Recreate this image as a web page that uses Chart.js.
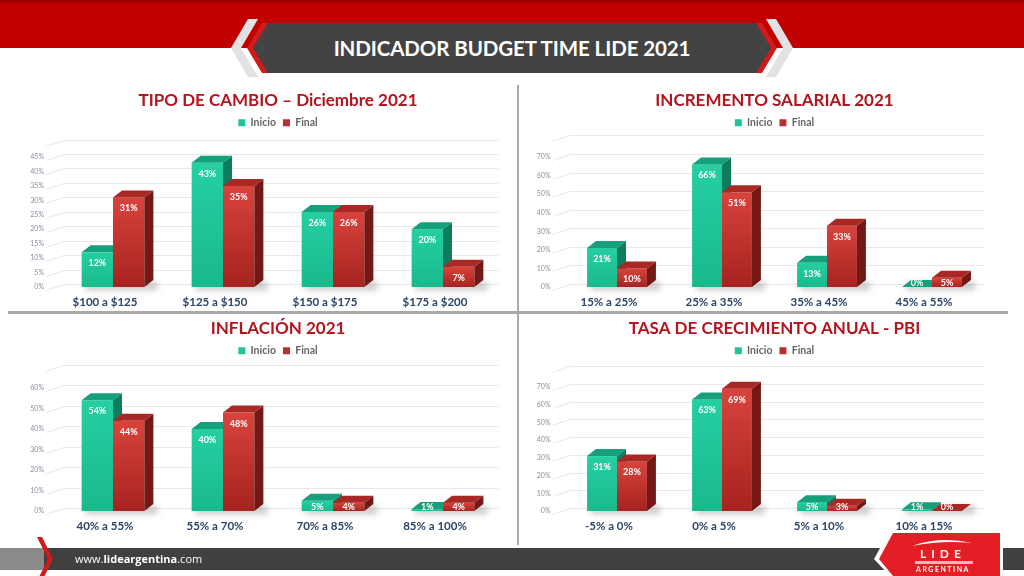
<!DOCTYPE html>
<html>
<head>
<meta charset="utf-8">
<script src="https://cdn.jsdelivr.net/npm/chart.js@4.4.1/dist/chart.umd.min.js"></script>
<style>
  html, body { margin: 0; padding: 0; background: #fff; }
  #page { position: relative; width: 1024px; height: 576px; overflow: hidden; font-family: Lato, "Open Sans", sans-serif; }
  .abs { position: absolute; }
  canvas { position: absolute; }
  #banner { left: 262px; top: 23px; width: 500px; height: 50px; line-height: 50px; text-align: center;
            color: #fff; font-weight: bold; font-size: 20.5px; letter-spacing: -0.1px; }
  #web { left: 75px; top: 551px; color: #fff; font-family: "Open Sans", sans-serif; font-size: 11px; }
</style>
</head>
<body>
<div id="page">
  <svg class="abs" style="left:0;top:0" width="1024" height="576">
    <rect x="0" y="0" width="1024" height="48" fill="#c10000"/>
    <rect x="0" y="0" width="1024" height="3" fill="#a30000"/>
    <!-- banner -->
    <polygon points="248,19 258,19 241,48 258,77 248,77 231,48" fill="#e2e2e2"/>
    <polygon points="766,19 776,19 793,48 776,77 766,77 783,48" fill="#e2e2e2"/>
    <polygon points="267,23 757,23 772,48 757,73 267,73 252,48" fill="#434343"/>
    <polygon points="262,23 268,23 253,48 268,73 262,73 247,48" fill="#d11a1a"/>
    <polygon points="756,23 762,23 777,48 762,73 756,73 771,48" fill="#d11a1a"/>
    <!-- panel separators -->
    <rect x="517" y="85" width="2" height="460" fill="#a9a9a9"/>
    <rect x="8" y="311" width="1000" height="3" fill="#a9a9a9"/>
  </svg>
  <div id="banner" class="abs">INDICADOR BUDGET TIME LIDE 2021</div>

  <canvas id="c1" width="517" height="225" style="left:0;top:85px"></canvas>
  <canvas id="c2" width="505" height="225" style="left:519px;top:85px"></canvas>
  <canvas id="c3" width="517" height="232" style="left:0;top:313px"></canvas>
  <canvas id="c4" width="505" height="232" style="left:519px;top:313px"></canvas>

  <svg class="abs" style="left:0;top:0" width="1024" height="576">
    <rect x="0" y="548" width="44" height="22" fill="#8a8a8a"/>
    <rect x="44" y="548" width="980" height="22" fill="#404040"/>
    <polygon points="37,537 42,537 53,559 42,581 37,581 48,559" fill="#d11a1a"/>
    <!-- logo -->
    <polygon points="874,559 890,530 1003,530 1003,576 890,576" fill="#ffffff"/>
    <polygon points="879,559 893,533 1000,533 1000,576 893,576" fill="#e41e25"/>
    <path d="M912,546 Q940,536 972,543 Q942,540 912,546 Z" fill="#fff"/>
    <rect x="915" y="561" width="58" height="3" fill="#f5b5b5"/>
  </svg>
  <div class="abs" style="left:893px;top:546px;width:100px;text-align:center;color:#fff;font:bold 12px Lato, sans-serif;letter-spacing:5px">LIDE</div>
  <div class="abs" style="left:893px;top:565px;width:100px;text-align:center;color:#fff;font:bold 7px Lato, sans-serif;letter-spacing:1.5px">ARGENTINA</div>
  <div id="web" class="abs">www.<b>lideargentina</b>.com</div>
</div>

<script>
// ---- data ----
const seriesNames = ['Inicio', 'Final'];

const cambioCats = ['$100 a $125', '$125 a $150', '$150 a $175', '$175 a $200'];
const cambioInicio = [12, 43, 26, 20];
const cambioFinal = [31, 35, 26, 7];

const salarioCats = ['15% a 25%', '25% a 35%', '35% a 45%', '45% a 55%'];
const salarioInicio = [21, 66, 13, 0];
const salarioFinal = [10, 51, 33, 5];

const inflacionCats = ['40% a 55%', '55% a 70%', '70% a 85%', '85% a 100%'];
const inflacionInicio = [54, 40, 5, 1];
const inflacionFinal = [44, 48, 4, 4];

const pbiCats = ['-5% a 0%', '0% a 5%', '5% a 10%', '10% a 15%'];
const pbiInicio = [31, 63, 5, 1];
const pbiFinal = [28, 69, 3, 0];

Chart.defaults.font.family = 'Lato, "Open Sans", sans-serif';

// depth of the fake 3d bars
const DX = 9, DY = 7;
const faces = [
    { front: ['#25cfa2', '#1ab98c'], side: '#0d7d5e', top: '#14a07b' },
    { front: ['#d8433c', '#a6231f'], side: '#741815', top: '#aa2823' }
];

// draws wall lines, 3d bars and value labels instead of the flat bars
const bar3d = {
    id: 'bar3d',
    beforeDatasetsDraw(chart, args, opts) {
        const ctx = chart.ctx;
        const ca = chart.chartArea;
        const y = chart.scales.y;

        ctx.save();
        ctx.strokeStyle = '#e8e8e8';
        ctx.lineWidth = 1;
        for (let v = 0; v <= opts.labelMax + opts.step + 0.001; v += opts.step) {
            const yy = Math.round(y.getPixelForValue(v)) + 0.5;
            ctx.beginPath();
            ctx.moveTo(ca.left - 12, yy + 3);
            ctx.lineTo(ca.left + 6, yy - 3);
            ctx.lineTo(ca.right, yy - 3);
            ctx.stroke();
        }
        ctx.restore();

        const metas = chart.data.datasets.map((d, i) => chart.getDatasetMeta(i));
        const n = chart.data.labels.length;
        for (let i = 0; i < n; i++) {
            const f = metas[0].data[i], l = metas[metas.length - 1].data[i];
            const sx0 = f.x - f.width / 2, sx1 = l.x + l.width / 2 + DX;
            ctx.save();
            ctx.filter = 'blur(3px)';
            ctx.fillStyle = 'rgba(0,0,0,0.22)';
            ctx.fillRect(sx0 + 4, f.base - DY + 2, sx1 - sx0, DY + 1);
            ctx.restore();

            metas.forEach((m, d) => {
                const el = m.data[i], c = faces[d];
                const x0 = el.x - el.width / 2, x1 = el.x + el.width / 2;
                const top = Math.min(el.y, el.base), b = el.base;
                const g = ctx.createLinearGradient(0, top, 0, b);
                g.addColorStop(0, c.front[0]);
                g.addColorStop(1, c.front[1]);
                ctx.fillStyle = g;
                ctx.fillRect(x0, top, x1 - x0, b - top);

                ctx.fillStyle = c.side;
                ctx.beginPath();
                ctx.moveTo(x1, top); ctx.lineTo(x1 + DX, top - DY);
                ctx.lineTo(x1 + DX, b - DY); ctx.lineTo(x1, b);
                ctx.closePath(); ctx.fill();

                ctx.fillStyle = c.top;
                ctx.beginPath();
                ctx.moveTo(x0, top); ctx.lineTo(x0 + DX, top - DY);
                ctx.lineTo(x1 + DX, top - DY); ctx.lineTo(x1, top);
                ctx.closePath(); ctx.fill();
            });
        }

        ctx.save();
        ctx.font = 'bold 9px Lato, sans-serif';
        ctx.fillStyle = '#ffffff';
        ctx.textAlign = 'center';
        ctx.textBaseline = 'middle';
        metas.forEach((m, d) => m.data.forEach((el, i) => {
            const v = chart.data.datasets[d].data[i];
            ctx.fillText(v + '%', el.x, Math.min(el.y + 11, el.base - 4));
        }));
        ctx.restore();
        return false;
    }
};

const panels = [
    { id: 'c1', title: 'TIPO DE CAMBIO – Diciembre 2021', cats: cambioCats, a: cambioInicio, b: cambioFinal,
      step: 5, labelMax: 45, left: 0, top: 85, w: 517, zeroY: 287, topTickY: 157, plotL: 58, plotR: 498 },
    { id: 'c2', title: 'INCREMENTO SALARIAL 2021', cats: salarioCats, a: salarioInicio, b: salarioFinal,
      step: 10, labelMax: 70, left: 519, top: 85, w: 505, zeroY: 287, topTickY: 157, plotL: 564.5, plotR: 984.5 },
    { id: 'c3', title: 'INFLACIÓN 2021', cats: inflacionCats, a: inflacionInicio, b: inflacionFinal,
      step: 10, labelMax: 60, left: 0, top: 313, w: 517, zeroY: 511, topTickY: 388, plotL: 58, plotR: 498 },
    { id: 'c4', title: 'TASA DE CRECIMIENTO ANUAL - PBI', cats: pbiCats, a: pbiInicio, b: pbiFinal,
      step: 10, labelMax: 70, left: 519, top: 313, w: 505, zeroY: 511, topTickY: 387, plotL: 564.5, plotR: 984.5 }
];

const AXIS_W = 30;

panels.forEach(p => {
    const chart = new Chart(document.getElementById(p.id), {
        type: 'bar',
        data: {
            labels: p.cats,
            datasets: [
                { label: seriesNames[0], data: p.a, backgroundColor: '#20c49a', borderWidth: 0 },
                { label: seriesNames[1], data: p.b, backgroundColor: '#b83030', borderWidth: 0 }
            ]
        },
        options: {
            responsive: false,
            animation: false,
            categoryPercentage: 0.57,
            barPercentage: 1,
            layout: { padding: { left: p.plotL - p.left - AXIS_W, right: p.left + p.w - p.plotR, top: 0, bottom: 0 } },
            plugins: {
                // not full size: title and legend centre over the plot, as in the picture
                title: {
                    display: true, text: p.title, color: '#b3141e', fullSize: false,
                    font: { size: 17, weight: 'bold' }, padding: { top: 5, bottom: 0 }
                },
                legend: {
                    fullSize: false,
                    labels: { boxWidth: 7, boxHeight: 7, color: '#666666', padding: 7,
                              font: { size: 10.5, weight: 'bold' } }
                },
                tooltip: { enabled: false },
                bar3d: { step: p.step, labelMax: p.labelMax }
            },
            scales: {
                x: {
                    grid: { display: false, drawTicks: false },
                    border: { display: false },
                    ticks: { color: '#2c4466', font: { size: 11.5, weight: 'bold' }, padding: 8,
                             labelOffset: -8, maxRotation: 0, autoSkip: false }
                },
                y: {
                    min: 0, max: p.labelMax + p.step,
                    grid: { display: false, drawTicks: false },
                    border: { display: false },
                    afterFit: s => { s.width = AXIS_W; },
                    ticks: {
                        stepSize: p.step, padding: 14, color: '#8790a0', font: { size: 7 },
                        callback: v => (v % p.step === 0 && v <= p.labelMax) ? v + '%' : ''
                    }
                }
            }
        },
        plugins: [bar3d]
    });

    // line the scale up with the picture: zero line and top labelled tick
    const a = chart.chartArea;
    const px = (p.zeroY - p.topTickY) / p.labelMax;
    chart.options.layout.padding.bottom += a.bottom - (p.zeroY - p.top);
    chart.options.scales.y.max = p.labelMax + (p.topTickY - p.top - a.top) / px;
    chart.update('none');
});
</script>
</body>
</html>
